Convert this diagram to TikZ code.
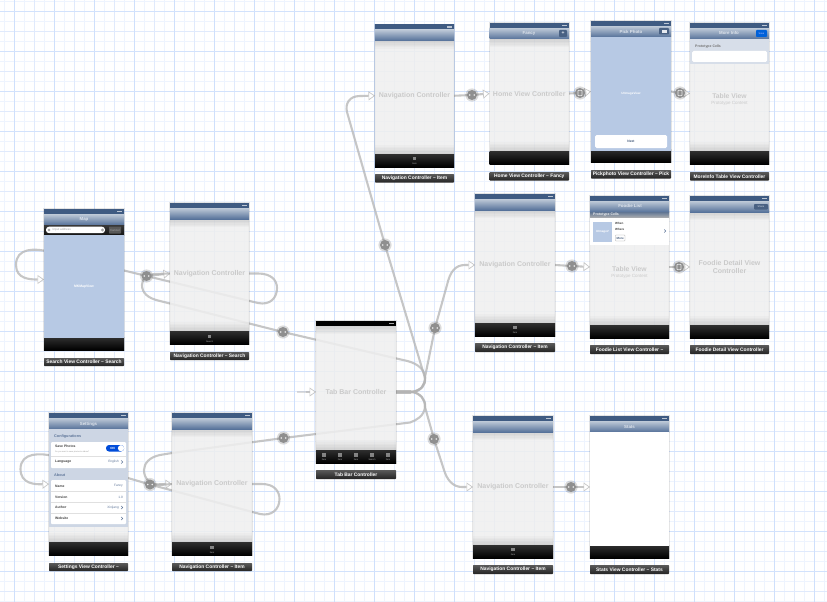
\documentclass[tikz,border=0pt]{standalone}
\usepackage{fontspec}
\setmainfont{Liberation Sans}
\usetikzlibrary{arrows.meta,calc}
\pgfdeclarelayer{bgl}\pgfdeclarelayer{conn}
\pgfsetlayers{bgl,conn,main}
\definecolor{gridA}{HTML}{CFE0FC}
\definecolor{gridB}{HTML}{E0EAFC}
\definecolor{gridC}{HTML}{EEF4FE}
\definecolor{statusc}{HTML}{3F5B82}
\definecolor{navtop}{HTML}{BFCAD8}
\definecolor{navbot}{HTML}{56729A}
\definecolor{bodyc}{HTML}{EFEFEF}
\definecolor{imgc}{HTML}{B7C9E4}
\definecolor{ctlc}{HTML}{CACACA}
\definecolor{linec}{HTML}{B4B4B4}
\definecolor{badgec}{HTML}{8F8F8F}
\definecolor{titlec}{HTML}{DDE3EB}
\definecolor{groupc}{HTML}{CDD6E4}
\definecolor{labtop}{HTML}{5A5A5A}
\definecolor{labbot}{HTML}{242424}
\definecolor{valc}{HTML}{5F7699}
\newcounter{tn}
\tikzset{
  fz/.style={font=\fontsize{#1}{#1}\selectfont,inner sep=0pt},
  fb/.style={font=\bfseries\fontsize{#1}{#1}\selectfont,inner sep=0pt},
  ctl/.style={inner sep=0pt,text=ctlc,align=center,font=\bfseries\fontsize{7}{8.6}\selectfont},
  ttl/.style={fb=4.4,text=titlec},
  screenbox/.style={rectangle,inner sep=0pt,outer sep=0pt,anchor=north west,fill=bodyc,fill opacity=.86},
  labbox/.style={rectangle,inner sep=0pt,outer sep=0pt,anchor=north west,top color=labtop,bottom color=labbot,rounded corners=.6pt,text=white,font=\bfseries\fontsize{4.9}{5}\selectfont},
  seg/.style={draw=linec,line width=2.1pt,draw opacity=.75,line join=round},
  segarrow/.style={seg,-{Triangle[length=6.5pt,width=9pt,fill=white,line width=.7pt]}},
  badgenode/.style={circle,fill=badgec,inner sep=0pt,minimum size=10pt,outer sep=0pt},
  whitecell/.style={fill=white,rounded corners=1pt},
  glowrect/.style={draw=black,draw opacity=.10,line width=1.8pt}
}
\newcommand{\tx}[4]{\stepcounter{tn}\node[#1] (t\thetn) at (#2,#3) {#4};}
\newcommand{\txn}[3]{\stepcounter{tn}\node[#1] (t\thetn) at (#2) {#3};}
\newcommand{\myscreen}[5]{%
  \draw[glowrect] (#2,#3) rectangle (#4,#5);
  \node[screenbox,minimum width={(#4-#2)*1pt},minimum height={(#5-#3)*1pt}] (#1) at (#2,#3) {};}
\newcommand{\batt}[2]{\fill[white,opacity=.65] ({#1-7},{#2+1.6}) rectangle ({#1-2},{#2+3.2});}
\newcommand{\mychrome}[4]{%
  \pgfmathsetmacro{\navb}{#2+16}\pgfmathsetmacro{\stb}{#2+5}\pgfmathsetmacro{\blk}{#4-12.5}%
  \foreach \i in {1,...,6}{\fill[black,opacity=.018] (#1,\navb) rectangle (#3,{\navb+\i*1.4});
    \fill[black,opacity=.018] (#1,\blk) rectangle (#3,{\blk-\i*1.6});}
  \shade[top color=navtop,bottom color=navbot] (#1,\stb) rectangle (#3,\navb);
  \fill[statusc] (#1,#2) rectangle (#3,\stb);
  \batt{#3}{#2}
  \shade[top color=black!82,bottom color=black] (#1,\blk) rectangle (#3,#4);}
\newcommand{\tabitem}[3]{\fill[white,opacity=.45] ({#1-1.8},{#2-1.7}) rectangle ({#1+1.8},{#2+1.7});
  \tx{fz=2.2,text=white!70!black}{#1}{#2+4.8}{#3}}
\newcommand{\mylabel}[6]{\node[labbox,minimum width={(#4-#2)*1pt},minimum height={(#5-#3)*1pt}] (#1) at (#2,#3) {#6};}
\newcommand{\badgeA}[3]{\fill[black,opacity=.14] (#2,#3) circle (6.6);
  \node[badgenode] (#1) at (#2,#3) {};
  \fill[white,opacity=.85] ({#2-2.2},#3) circle (.9) ({#2+2.2},#3) circle (.9);}
\newcommand{\badgeB}[3]{\fill[black,opacity=.14] (#2,#3) circle (6.6);
  \node[badgenode] (#1) at (#2,#3) {};
  \draw[white,opacity=.8,line width=.6pt,rounded corners=.5pt] ({#2-2},{#3-2.6}) rectangle ({#2+2},{#3+2.6});}
\newcommand{\chev}[2]{\draw[valc,line width=.6pt] ({#1-.8},{#2-1.5}) -- ({#1+.8},#2) -- ({#1-.8},{#2+1.5});}
\begin{document}
\begin{tikzpicture}[x=1pt,y=-1pt]
\useasboundingbox (0,0) rectangle (827,602);
\begin{pgfonlayer}{bgl}
  \fill[white] (0,0) rectangle (827,602);
  \foreach \k in {0,2,...,82}{\draw[gridC,line width=1pt] ({4.3+10*\k},0) -- ({4.3+10*\k},602);}
  \foreach \k in {0,2,...,60}{\draw[gridC,line width=1pt] (0,{1.7+10*\k}) -- (827,{1.7+10*\k});}
  \foreach \k in {3,7,...,83}{\draw[gridB,line width=1pt] ({4.3+10*\k},0) -- ({4.3+10*\k},602);}
  \foreach \k in {3,7,...,59}{\draw[gridB,line width=1pt] (0,{1.7+10*\k}) -- (827,{1.7+10*\k});}
  \foreach \k in {1,5,...,81}{\draw[gridA,line width=1pt] ({4.3+10*\k},0) -- ({4.3+10*\k},602);}
  \foreach \k in {1,5,...,57}{\draw[gridA!80!gridB,line width=1pt] (0,{1.7+10*\k}) -- (827,{1.7+10*\k});}
\end{pgfonlayer}

% ---------- screens
\myscreen{search}{44}{209}{124}{350}\mychrome{44}{209}{124}{350}
\myscreen{navS}{170}{203}{249}{344}\mychrome{170}{203}{249}{344}
\myscreen{settings}{49}{413}{128}{555}\mychrome{49}{413}{128}{555}
\myscreen{navL}{172}{413}{252}{555}\mychrome{172}{413}{252}{555}
\myscreen{tab}{316}{321}{396}{463}
\foreach \i in {1,...,6}{\fill[black,opacity=.018] (316,326) rectangle (396,{326+\i*1.4});
  \fill[black,opacity=.018] (316,450) rectangle (396,{450-\i*1.6});}
\fill[black] (316,321) rectangle (396,326);\batt{396}{321}
\shade[top color=black!82,bottom color=black] (316,450) rectangle (396,463);
\myscreen{navTop}{375}{24.5}{454}{167}\mychrome{375}{24.5}{454}{167}
\myscreen{home}{489.5}{23}{569}{164}\mychrome{489.5}{23}{569}{164}
\myscreen{pick}{591}{21}{671}{162}\mychrome{591}{21}{671}{162}
\myscreen{more}{690}{23}{769}{164}\mychrome{690}{23}{769}{164}
\myscreen{navMid}{475}{194}{555}{336}\mychrome{475}{194}{555}{336}
\myscreen{list}{590}{196}{669}{338}\mychrome{590}{196}{669}{338}
\myscreen{detail}{690}{196}{769}{338}\mychrome{690}{196}{769}{338}
\myscreen{navBot}{473}{416}{553}{558}\mychrome{473}{416}{553}{558}
\myscreen{stats}{590}{416}{669}{558}
\mychrome{590}{416}{669}{558}
\fill[white] (590,432) rectangle (669,545.5);

% ---------- search content
\tx{ttl}{84}{219.5}{Map}
\shade[top color=black!78,bottom color=black!92] (44,225) rectangle (124,235);
\fill[white,rounded corners=3pt] (46,226.7) rectangle (105,233.2);
\draw[gray,line width=.4pt] (49,230) circle (1.1);
\fill[gray!70] (102.5,230) circle (1.7);
\tx{fz=3,text=gray!75,anchor=west}{52.5}{230}{Input address}
\fill[black!65,rounded corners=.6pt] (109,226.5) rectangle (121,233.5);
\tx{fz=3,text=white!65!black}{115}{230}{Cancel}
\fill[imgc] (44,235) rectangle (124,338);
\tx{fb=3.4,text=white}{84}{287}{MKMapView}
% nav controllers
\txn{ctl}{navS.center}{Navigation Controller}
\txn{ctl}{navL.center}{Navigation Controller}
\txn{ctl}{navTop.center}{Navigation Controller}
\txn{ctl}{navMid.center}{Navigation Controller}
\txn{ctl}{navBot.center}{Navigation Controller}
\tabitem{209.5}{336.5}{Search}
\tabitem{212}{547.5}{Item}
\tabitem{414.5}{158.5}{Item}
\tabitem{515}{327.5}{Item}
\tabitem{513}{549.5}{Item}
% tab bar
\txn{ctl}{tab.center}{Tab Bar Controller}
\tabitem{324}{455}{Item}\tabitem{340}{455}{Item}\tabitem{356}{455}{Item}\tabitem{372}{455}{Search}\tabitem{388}{455}{Item}
% settings
\tx{ttl}{88.5}{424}{Settings}
\fill[groupc] (49,429) rectangle (128,527);
\tx{fb=3.8,text=valc,anchor=west}{54}{437}{Configurations}
\fill[whitecell] (51,442) rectangle (126,468);
\draw[black!12,line width=.4pt] (51,456) -- (126,456);
\tx{fb=3.4,text=black!75,anchor=west}{55}{446}{Save Photos}
\tx{fz=2,text=black!40,anchor=west}{55}{451.5}{Do you want to save photos to album?}
\fill[blue!65!cyan!85!black,rounded corners=3pt] (106,445) rectangle (124,451.5);
\fill[white] (121,448.2) circle (3.1);
\tx{fb=3,text=white}{112.5}{448.2}{ON}
\tx{fb=3.4,text=black!75,anchor=west}{55}{462}{Language}
\tx{fz=3.2,text=valc,anchor=east}{119}{462}{English}
\chev{122}{462}
\tx{fb=3.8,text=valc,anchor=west}{54}{475}{About}
\fill[whitecell] (51,480) rectangle (126,524);
\draw[black!12,line width=.4pt] (51,491) -- (126,491) (51,502) -- (126,502) (51,513) -- (126,513);
\tx{fb=3.4,text=black!75,anchor=west}{55}{486}{Name}
\tx{fz=3.2,text=valc,anchor=east}{123}{486}{Fancy}
\tx{fb=3.4,text=black!75,anchor=west}{55}{497}{Version}
\tx{fz=3.2,text=valc,anchor=east}{123}{497}{1.0}
\tx{fb=3.4,text=black!75,anchor=west}{55}{507.5}{Author}
\tx{fz=3.2,text=valc,anchor=east}{119}{507.5}{Xinjiang}
\chev{122}{507.5}
\tx{fb=3.4,text=black!75,anchor=west}{55}{518.5}{Website}
\chev{122}{518.5}
% home
\tx{ttl}{529}{33}{Fancy}
\fill[navbot!85!black,rounded corners=.8pt] (559,30) rectangle (567,37);
\tx{fb=5,text=white!85!navbot}{563}{33.3}{+}
\txn{ctl}{home.center}{Home View Controller}
% pick
\tx{ttl}{631}{31.5}{Pick Photo}
\fill[navbot!85!black,rounded corners=.8pt] (659,28) rectangle (669,34.5);
\fill[white!85!navbot] (661.5,29.8) rectangle (666.5,32.8);
\fill[imgc] (591,37) rectangle (671,151);
\tx{fb=3.1,text=white}{631}{94}{UIImageView}
\fill[white,rounded corners=1.5pt] (595,135) rectangle (667,148);
\tx{fb=3.3,text=navbot!80!black}{631}{141.5}{Next}
% more
\tx{ttl}{729}{33}{More Info}
\fill[blue!55!cyan!85!black,rounded corners=.8pt] (756,30) rectangle (767,37);
\tx{fz=2.5,text=white!75!blue}{761.5}{33.5}{Save}
\fill[groupc!80!white] (690,39) rectangle (769,64);
\tx{fb=3.5,text=black!55,anchor=west}{695}{46.5}{Prototype Cells}
\fill[white,rounded corners=1.5pt] (692,51) rectangle (767,62);
\tx{fb=6.8,text=ctlc}{729.5}{96}{Table View}
\tx{fz=4.5,text=ctlc}{729.5}{103.5}{Prototype Content}
% foodie list
\tx{ttl}{630}{206}{Foodie List}
\shade[top color=navbot!75!gray,bottom color=gray!60!white] (590,212) rectangle (669,218);
\tx{fb=3.5,text=white!90!gray,anchor=west}{593}{215}{Prototype Cells}
\fill[white] (590,218) rectangle (669,245);
\fill[imgc] (593,222) rectangle (612,242);
\tx{fb=3,text=white}{602.5}{232}{UImageV}
\tx{fb=3,text=black!75,anchor=west}{615}{223}{When}
\tx{fb=3,text=black!75,anchor=west}{615}{229}{Where}
\draw[black!35,fill=white,line width=.3pt,rounded corners=.7pt] (615.5,235) rectangle (625,241);
\tx{fb=3,text=navbot!80!black}{620.2}{238}{More}
\chev{665}{231}
\tx{fb=6.8,text=ctlc}{629.5}{269}{Table View}
\tx{fz=4.5,text=ctlc}{629.5}{276}{Prototype Content}
% foodie detail
\fill[navbot!85!black,rounded corners=.8pt] (754,204) rectangle (768,209.5);
\tx{fz=2.5,text=white!75!navbot}{761}{206.8}{Share}
\txn{ctl}{detail.center}{Foodie Detail View\\Controller}
% stats
\tx{ttl}{629.5}{426.5}{Stats}

% ---------- title labels
\mylabel{lSearch}{44}{358}{124}{366}{Search View Controller -- Search}
\mylabel{lNavS}{170}{352}{249}{360}{Navigation Controller -- Search}
\mylabel{lSettings}{49}{563}{128}{571}{Settings View Controller --}
\mylabel{lNavL}{172}{563}{252}{571}{Navigation Controller -- Item}
\mylabel{lTab}{316}{470}{396}{479}{Tab Bar Controller}
\mylabel{lNavTop}{375}{174}{454}{182.5}{Navigation Controller -- Item}
\mylabel{lHome}{489.5}{172}{569}{180.5}{Home View Controller -- Fancy}
\mylabel{lPick}{591}{170}{671}{178.5}{Pickphoto View Controller -- Pick}
\mylabel{lMore}{690}{172}{769}{180.5}{MoreInfo Table View Controller}
\mylabel{lNavMid}{475}{343}{555}{352}{Navigation Controller -- Item}
\mylabel{lList}{590}{345}{669}{354}{Foodie List View Controller --}
\mylabel{lDetail}{690}{345}{769}{354}{Foodie Detail View Controller}
\mylabel{lNavBot}{473}{565}{553}{574}{Navigation Controller -- Item}
\mylabel{lStats}{590}{565}{669}{574}{Stats View Controller -- Stats}

% ---------- segue badges
\badgeA{bS}{146.5}{276}
\badgeA{bTS}{283}{332}
\badgeA{bSet}{150}{484.5}
\badgeA{bTL}{283.5}{438}
\badgeA{bTT}{385}{245}
\badgeA{bTM}{435}{328}
\badgeA{bTB}{434}{439}
\badgeA{bNH}{472}{95}
\badgeB{bHP}{580}{93}
\badgeB{bPM}{680}{93}
\badgeA{bNL}{572}{266}
\badgeB{bLD}{679}{267}
\badgeA{bNS}{571}{487}

% ---------- connectors (under the screens)
\begin{pgfonlayer}{conn}
\coordinate (tabIn) at (297,392);
\coordinate (searchOut) at ($(search.west)+(4,-28)$);
\coordinate (settingsOut) at ($(settings.west)+(4,-28)$);
\coordinate (searchE) at ($(search.east)+(0,-9)$);
\coordinate (settingsE) at ($(settings.east)+(0,-6)$);
\draw[segarrow] (searchOut) .. controls (36,248.5) and (16,247) .. (16,265) .. controls (16,279) and (30,279.5) .. (search.west);
\draw[segarrow] (settingsOut) .. controls (41,453) and (20.5,452) .. (20.5,469) .. controls (20.5,484) and (35,484.5) .. (settings.west);
\draw[seg] (searchE) -- (bS.center);
\draw[segarrow] (bS.center) -- (navS.west);
\draw[seg] (navS.east) -- (258,273.5) .. controls (271,273.5) and (277,280) .. (277,288) .. controls (277,298) and (270,305.5) .. (258,303) -- (bS.center);
\draw[seg] (tab.east) -- (410,392) .. controls (421,391) and (426,385) .. (425,377) .. controls (424,367) and (414,362) .. (403,360) -- (bTS.center) -- (158,300.5) .. controls (148,298) and (142,293) .. (142,285) .. controls (142,278) and (147,275) .. (155,274) -- (navS.west);
\draw[seg] (settingsE) -- (bSet.center);
\draw[segarrow] (bSet.center) -- (navL.west);
\draw[seg] (navL.east) -- (262,484) .. controls (274,484) and (279.5,491) .. (279.5,499) .. controls (279.5,509) and (272,516.5) .. (260,514) -- (bSet.center);
\draw[seg] (tab.east) -- (412,392) .. controls (420,393) and (426,399) .. (425,407) .. controls (424,416) and (417,420) .. (410,422.5) -- (bTL.center) -- (172,453) -- (160,455) .. controls (150,457) and (144,463) .. (144,470) .. controls (144,479) and (150,484.5) .. (160,485) -- (navL.west);
\draw[segarrow] (tab.east) -- (412,392) .. controls (421,391) and (426,385) .. (425,378) -- (bTT.center) -- (347,112) .. controls (345,104) and (349,96) .. (360,96) -- (navTop.west);
\draw[segarrow] (tab.east) -- (412,392) .. controls (421,391) and (425,385) .. (425,377) -- (bTM.center) -- (447,285) .. controls (450,272) and (455,265) .. (465,265) -- (navMid.west);
\draw[segarrow] (tab.east) -- (412,392) .. controls (420,393) and (425,399) .. (425,407) -- (bTB.center) -- (444,470) .. controls (447,480) and (453,487) .. (462,487) -- (navBot.west);
\draw[seg,line width=3.2pt] (tab.east) -- (411,392);
\draw[seg,draw opacity=.45] (tabIn) -- (306,392);
\draw[segarrow] (306,392) -- (tab.west);
\draw[seg] (navTop.east) -- (bNH.center);
\draw[segarrow] (bNH.center) -- (home.west);
\draw[seg] (home.east) -- (bHP.center);
\draw[segarrow] (bHP.center) -- (pick.west);
\draw[seg] (pick.east) -- (bPM.center);
\draw[segarrow] (bPM.center) -- (more.west);
\draw[seg] (navMid.east) -- (bNL.center);
\draw[segarrow] (bNL.center) -- (list.west);
\draw[seg] (list.east) -- (bLD.center);
\draw[segarrow] (bLD.center) -- (detail.west);
\draw[seg] (navBot.east) -- (bNS.center);
\draw[segarrow] (bNS.center) -- (stats.west);
\end{pgfonlayer}
\end{tikzpicture}
\end{document}
